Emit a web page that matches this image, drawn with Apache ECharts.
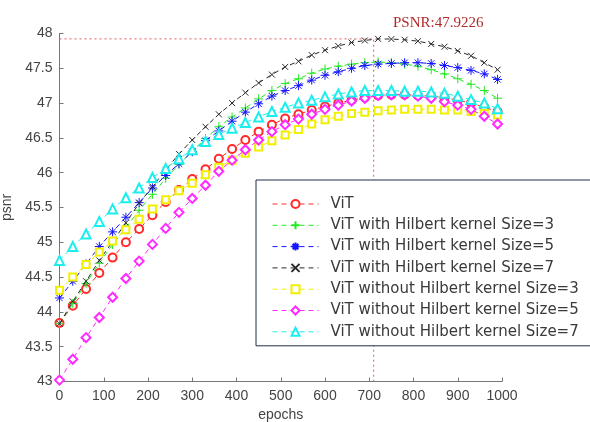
<!DOCTYPE html>
<html>
<head>
<meta charset="utf-8">
<script src="https://cdn.jsdelivr.net/npm/echarts@6/dist/echarts.min.js"></script>
<style>
  html, body { margin: 0; padding: 0; background: #fff; }
  #chart { width: 590px; height: 422px; }
</style>
</head>
<body>
<div id="chart"></div>
<script>
// Epochs at which each curve is sampled (every 30 epochs)
const epochs = [0,30,60,90,120,150,180,210,240,270,300,330,360,390,420,450,480,510,540,570,600,630,660,690,720,750,780,810,840,870,900,930,960,990];

const vit = [43.84,44.09,44.33,44.56,44.78,45.00,45.19,45.39,45.58,45.75,45.91,46.05,46.20,46.34,46.47,46.59,46.69,46.78,46.84,46.90,46.95,47.00,47.04,47.08,47.11,47.12,47.12,47.11,47.10,47.08,47.04,47.00,46.94,46.88];
const withK3 = [43.83,44.12,44.41,44.70,44.97,45.21,45.46,45.69,45.92,46.12,46.31,46.49,46.66,46.80,46.93,47.06,47.18,47.28,47.35,47.43,47.49,47.53,47.56,47.58,47.59,47.58,47.56,47.53,47.48,47.42,47.35,47.27,47.18,47.07];
const withK5 = [44.20,44.44,44.69,44.94,45.15,45.36,45.57,45.78,45.96,46.13,46.30,46.46,46.60,46.74,46.87,46.99,47.10,47.18,47.25,47.33,47.40,47.45,47.50,47.54,47.56,47.57,47.58,47.58,47.57,47.54,47.51,47.47,47.42,47.34];
const withK7 = [43.83,44.15,44.44,44.74,45.01,45.28,45.56,45.80,46.04,46.27,46.47,46.66,46.84,47.00,47.15,47.29,47.41,47.52,47.60,47.69,47.76,47.82,47.87,47.90,47.9226,47.92,47.91,47.89,47.85,47.81,47.75,47.68,47.58,47.48];
const withoutK3 = [44.31,44.50,44.68,44.86,45.02,45.18,45.33,45.48,45.61,45.74,45.85,45.97,46.08,46.18,46.28,46.37,46.46,46.54,46.62,46.70,46.76,46.81,46.85,46.87,46.89,46.90,46.91,46.91,46.91,46.90,46.90,46.88,46.85,46.83];
const withoutK5 = [43.02,43.32,43.63,43.92,44.21,44.48,44.73,44.97,45.20,45.43,45.63,45.82,46.02,46.18,46.33,46.47,46.59,46.69,46.77,46.84,46.91,46.97,47.03,47.07,47.11,47.12,47.12,47.10,47.07,47.02,46.97,46.91,46.81,46.70];
const withoutK7 = [44.74,44.94,45.12,45.30,45.48,45.64,45.78,45.93,46.06,46.20,46.33,46.45,46.55,46.64,46.72,46.80,46.88,46.94,47.00,47.04,47.09,47.13,47.16,47.18,47.18,47.18,47.17,47.17,47.16,47.14,47.10,47.05,47.00,46.92];

const seriesNames = [
  'ViT',
  'ViT with Hilbert kernel Size=3',
  'ViT with Hilbert kernel Size=5',
  'ViT with Hilbert kernel Size=7',
  'ViT without Hilbert kernel Size=3',
  'ViT without Hilbert kernel Size=5',
  'ViT without Hilbert kernel Size=7'
];
const xTicks = [0,100,200,300,400,500,600,700,800,900,1000];
const yTicks = [43,43.5,44,44.5,45,45.5,46,46.5,47,47.5,48];

// Epoch where the best curve peaks (guide lines drawn there)
const peakEpoch = 710;

const colors = ['#ff2a2a','#22e822','#1414ff','#2a2a2a','#f0f000','#ff2aff','#1ceeee'];
const plusPath = 'path://M5,0L5,10M0,5L10,5';
const starPath = 'path://M5,0L5,10M0,5L10,5M1.5,1.5L8.5,8.5M8.5,1.5L1.5,8.5';
const crossPath = 'path://M0,0L10,10M10,0L0,10';
const symbols = ['emptyCircle', plusPath, starPath, crossPath, 'emptyRect', 'emptyDiamond', 'emptyTriangle'];
const symbolSizes = [8, 9, 9, 6, 7, 9, 9];
const values = [vit, withK3, withK5, withK7, withoutK3, withoutK5, withoutK7];

const peak = Math.max(...withK7);

const series = values.map((vals, i) => ({
  name: seriesNames[i],
  type: 'line',
  data: epochs.map((e, j) => [e, vals[j]]),
  symbol: symbols[i],
  symbolSize: symbolSizes[i],
  showAllSymbol: true,
  color: colors[i],
  lineStyle: { color: colors[i], width: 1, type: [5, 4] },
  itemStyle: { color: colors[i], borderColor: colors[i], borderWidth: 1 },
  z: 3 + i
}));

// Dotted red guide lines marking the best PSNR
const guideStyle = { color: '#e85a5a', width: 1, type: [2, 3] };
series.push({
  name: 'peak-guide',
  type: 'line',
  data: [[0, peak], [peakEpoch, peak], [peakEpoch, 43]],
  symbol: 'none',
  silent: true,
  lineStyle: guideStyle,
  itemStyle: { color: '#e85a5a' },
  z: 2
});

const chart = echarts.init(document.getElementById('chart'), null, { renderer: 'canvas' });
chart.setOption({
  animation: false,
  backgroundColor: '#ffffff',
  title: {
    text: 'PSNR:' + peak,
    left: 388,
    top: 11,
    textStyle: { fontFamily: 'Liberation Serif', fontSize: 15, fontWeight: 'normal', color: '#b02a2a' }
  },
  grid: { left: 59.5, right: 88, top: 33.5, bottom: 40.5, containLabel: false, outerBoundsMode: 'none' },
  legend: {
    orient: 'vertical',
    left: 256,
    top: 180,
    backgroundColor: '#ffffff',
    borderColor: '#1f2c4c',
    borderWidth: 1,
    padding: [16, 40, 6, 16],
    itemWidth: 46,
    itemHeight: 10,
    itemGap: 5.3,
    lineStyle: { width: 1 },
    data: seriesNames,
    textStyle: { fontFamily: 'DejaVu Sans', fontSize: 15, lineHeight: 16, color: '#3a3a3a', padding: [0, 0, 0, 7] }
  },
  xAxis: {
    type: 'value',
    min: 0, max: 1000, interval: 100,
    name: 'epochs',
    nameLocation: 'middle',
    nameGap: 24,
    nameTextStyle: { fontFamily: 'Liberation Sans', fontSize: 14, color: '#444' },
    axisLine: { lineStyle: { color: '#777', width: 1 } },
    axisTick: { inside: true, length: 4, lineStyle: { color: '#777' } },
    axisLabel: {
      fontFamily: 'Liberation Sans', fontSize: 14, color: '#444', margin: 8,
      formatter: v => xTicks.includes(v) ? String(v) : ''
    },
    splitLine: { show: false }
  },
  yAxis: {
    type: 'value',
    min: 43, max: 48, interval: 0.5,
    name: 'psnr',
    nameLocation: 'middle',
    nameGap: 42,
    nameTextStyle: { fontFamily: 'Liberation Sans', fontSize: 14, color: '#444' },
    axisLine: { show: true, lineStyle: { color: '#777', width: 1 } },
    axisTick: { show: true, inside: true, length: 4, lineStyle: { color: '#777' } },
    axisLabel: {
      fontFamily: 'Liberation Sans', fontSize: 14, color: '#444', margin: 7,
      formatter: v => yTicks.includes(v) ? String(v) : ''
    },
    splitLine: { show: false }
  },
  series: series
});
</script>
</body>
</html>
